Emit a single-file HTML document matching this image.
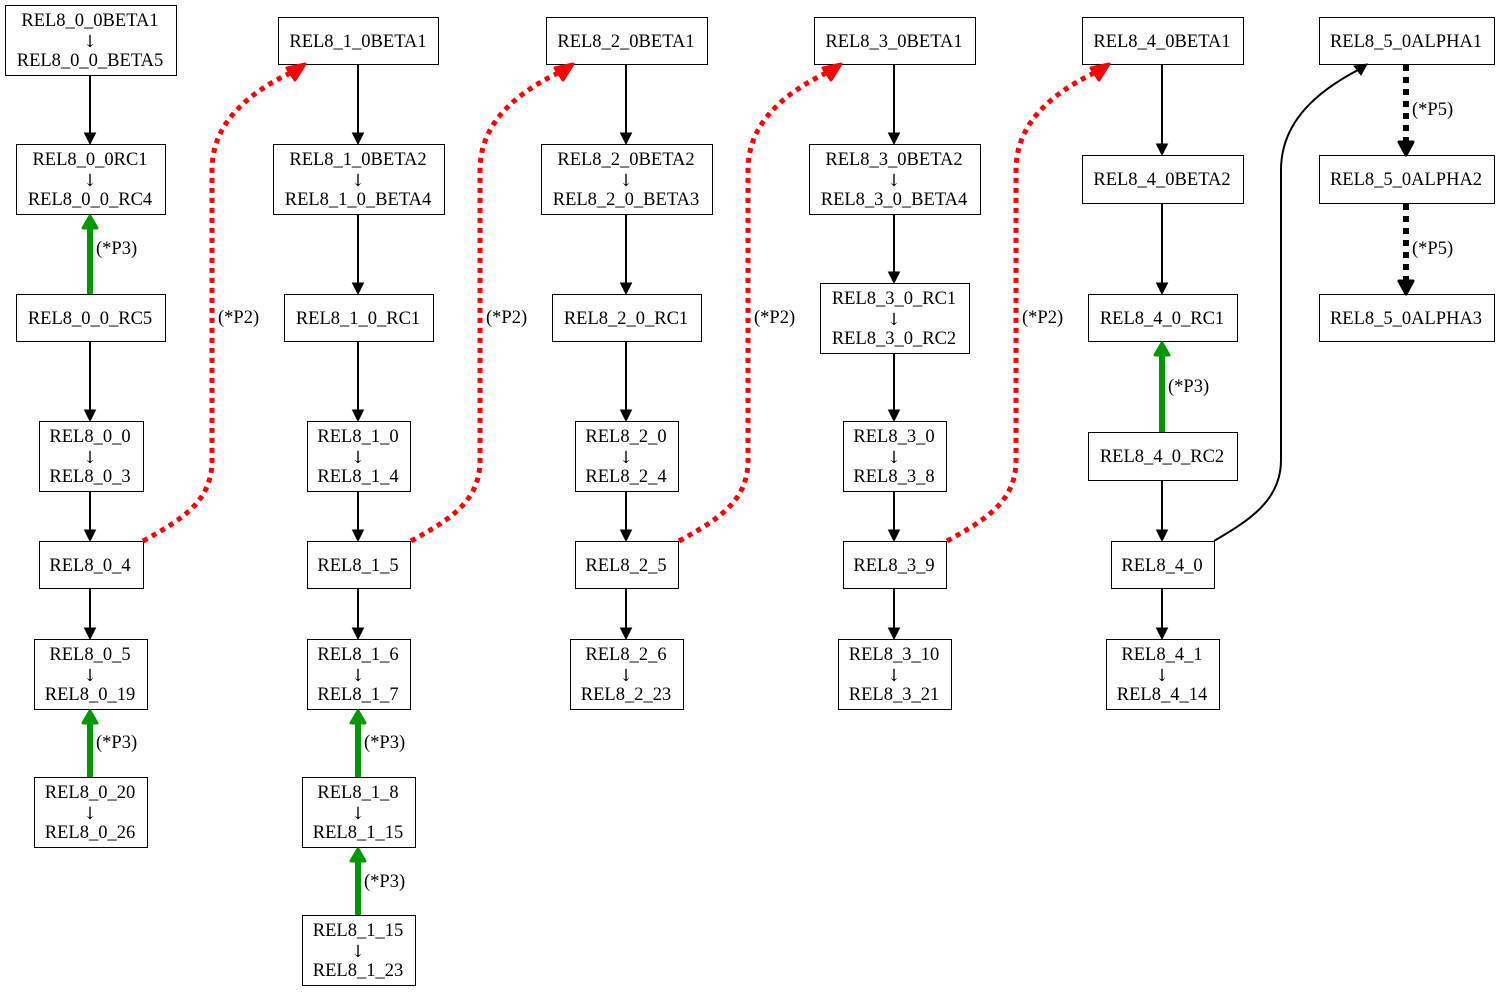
<!DOCTYPE html>
<html><head><meta charset="utf-8"><style>
html,body{margin:0;padding:0;background:#fff;}
svg{display:block;}
text{font-family:"Liberation Serif",serif;font-size:18.5px;fill:#000;}
text.a{font-size:17px;font-family:"DejaVu Serif","Liberation Serif",serif;}
</style></head><body>
<svg width="1499" height="992" viewBox="0 0 1499 992" xmlns="http://www.w3.org/2000/svg">
<g fill="none" stroke="#000" stroke-width="1">
<rect x="5.5" y="5.5" width="171" height="70"/>
<rect x="16.5" y="144.5" width="149" height="70"/>
<rect x="16.5" y="294.5" width="149" height="47"/>
<rect x="39.5" y="421.5" width="104" height="70"/>
<rect x="39.5" y="541.5" width="104" height="47"/>
<rect x="34.5" y="639.5" width="113" height="70"/>
<rect x="34.5" y="777.5" width="113" height="70"/>
<rect x="278.5" y="17.5" width="160" height="47"/>
<rect x="273.5" y="144.5" width="171" height="70"/>
<rect x="284.5" y="294.5" width="149" height="47"/>
<rect x="307.5" y="421.5" width="103" height="70"/>
<rect x="307.5" y="541.5" width="103" height="47"/>
<rect x="307.5" y="639.5" width="103" height="70"/>
<rect x="302.5" y="777.5" width="113" height="70"/>
<rect x="302.5" y="915.5" width="113" height="70"/>
<rect x="546.5" y="17.5" width="161" height="47"/>
<rect x="541.5" y="144.5" width="171" height="70"/>
<rect x="552.5" y="294.5" width="149" height="47"/>
<rect x="575.5" y="421.5" width="103" height="70"/>
<rect x="575.5" y="541.5" width="103" height="47"/>
<rect x="570.5" y="639.5" width="113" height="70"/>
<rect x="814.5" y="17.5" width="161" height="47"/>
<rect x="809.5" y="144.5" width="171" height="70"/>
<rect x="820.5" y="283.5" width="149" height="70"/>
<rect x="843.5" y="421.5" width="103" height="70"/>
<rect x="843.5" y="541.5" width="103" height="47"/>
<rect x="838.5" y="639.5" width="113" height="70"/>
<rect x="1082.5" y="17.5" width="161" height="47"/>
<rect x="1082.5" y="155.5" width="161" height="48"/>
<rect x="1088.5" y="294.5" width="149" height="47"/>
<rect x="1088.5" y="432.5" width="149" height="48"/>
<rect x="1111.5" y="541.5" width="103" height="47"/>
<rect x="1106.5" y="639.5" width="113" height="70"/>
<rect x="1319.5" y="17.5" width="175" height="47"/>
<rect x="1319.5" y="155.5" width="175" height="48"/>
<rect x="1319.5" y="294.5" width="175" height="47"/>
</g>

<g stroke="#000" stroke-width="2" fill="none">
<line x1="90" y1="76" x2="90" y2="134"/>
<line x1="90" y1="342" x2="90" y2="411"/>
<line x1="90" y1="492" x2="90" y2="531"/>
<line x1="90" y1="589" x2="90" y2="629"/>
<line x1="358" y1="65" x2="358" y2="134"/>
<line x1="358" y1="215" x2="358" y2="284"/>
<line x1="358" y1="342" x2="358" y2="411"/>
<line x1="358" y1="492" x2="358" y2="531"/>
<line x1="358" y1="589" x2="358" y2="629"/>
<line x1="626" y1="65" x2="626" y2="134"/>
<line x1="626" y1="215" x2="626" y2="284"/>
<line x1="626" y1="342" x2="626" y2="411"/>
<line x1="626" y1="492" x2="626" y2="531"/>
<line x1="626" y1="589" x2="626" y2="629"/>
<line x1="894" y1="65" x2="894" y2="134"/>
<line x1="894" y1="215" x2="894" y2="273"/>
<line x1="894" y1="354" x2="894" y2="411"/>
<line x1="894" y1="492" x2="894" y2="531"/>
<line x1="894" y1="589" x2="894" y2="629"/>
<line x1="1162" y1="65" x2="1162" y2="145"/>
<line x1="1162" y1="204" x2="1162" y2="284"/>
<line x1="1162" y1="481" x2="1162" y2="531"/>
<line x1="1162" y1="589" x2="1162" y2="629"/>
<path d="M1214,541 C1250,520 1281,500 1281,460 L1281,170 C1281,120 1320,90 1358,70"/>
</g>
<g fill="#000" stroke="#000" stroke-width="1">
<polygon points="84.5,133 95.5,133 90,144"/>
<polygon points="84.5,410 95.5,410 90,421"/>
<polygon points="84.5,530 95.5,530 90,541"/>
<polygon points="84.5,628 95.5,628 90,639"/>
<polygon points="352.5,133 363.5,133 358,144"/>
<polygon points="352.5,283 363.5,283 358,294"/>
<polygon points="352.5,410 363.5,410 358,421"/>
<polygon points="352.5,530 363.5,530 358,541"/>
<polygon points="352.5,628 363.5,628 358,639"/>
<polygon points="620.5,133 631.5,133 626,144"/>
<polygon points="620.5,283 631.5,283 626,294"/>
<polygon points="620.5,410 631.5,410 626,421"/>
<polygon points="620.5,530 631.5,530 626,541"/>
<polygon points="620.5,628 631.5,628 626,639"/>
<polygon points="888.5,133 899.5,133 894,144"/>
<polygon points="888.5,272 899.5,272 894,283"/>
<polygon points="888.5,410 899.5,410 894,421"/>
<polygon points="888.5,530 899.5,530 894,541"/>
<polygon points="888.5,628 899.5,628 894,639"/>
<polygon points="1156.5,144 1167.5,144 1162,155"/>
<polygon points="1156.5,283 1167.5,283 1162,294"/>
<polygon points="1156.5,530 1167.5,530 1162,541"/>
<polygon points="1156.5,628 1167.5,628 1162,639"/>
<polygon points="1354,66 1361,75 1367,64"/>
</g>

<g stroke="#000" stroke-width="6" stroke-dasharray="6,6" fill="none">
<line x1="1406" y1="65" x2="1406" y2="142"/>
<line x1="1406" y1="204" x2="1406" y2="281"/>
</g>
<g fill="#000" stroke="#000" stroke-width="3" stroke-linejoin="round">
<polygon points="1399,142 1413,142 1406,155"/>
<polygon points="1399,281 1413,281 1406,294"/>
</g>

<g stroke="#009900" stroke-width="6" fill="none">
<line x1="90" y1="294" x2="90" y2="228"/>
<line x1="90" y1="777" x2="90" y2="723"/>
<line x1="358" y1="777" x2="358" y2="723"/>
<line x1="358" y1="915" x2="358" y2="861"/>
<line x1="1162" y1="432" x2="1162" y2="355"/>
</g>
<g fill="#009900" stroke="#009900" stroke-width="3" stroke-linejoin="round">
<polygon points="83,228 97,228 90,216"/>
<polygon points="83,723 97,723 90,711"/>
<polygon points="351,723 365,723 358,711"/>
<polygon points="351,861 365,861 358,849"/>
<polygon points="1155,355 1169,355 1162,343"/>
</g>

<g stroke="#ff0000" stroke-width="5" stroke-dasharray="5,5" fill="none">
<path d="M143,541 C185,518 212,500 212,460 L212,170 C212,125 245,95 290,73"/>
<path d="M411,541 C453,518 480,500 480,460 L480,170 C480,125 513,95 558,73"/>
<path d="M679,541 C721,518 748,500 748,460 L748,170 C748,125 781,95 826,73"/>
<path d="M947,541 C989,518 1016,500 1016,460 L1016,170 C1016,125 1049,95 1094,73"/>
</g>
<g fill="#ff0000" stroke="#ff0000" stroke-width="3" stroke-linejoin="round">
<polygon points="287,68 295,80 305,64"/>
<polygon points="555,68 563,80 573,64"/>
<polygon points="823,68 831,80 841,64"/>
<polygon points="1091,68 1099,80 1109,64"/>
</g>

<g text-anchor="start">
<text x="96" y="254">(*P3)</text>
<text x="96" y="748">(*P3)</text>
<text x="364" y="748">(*P3)</text>
<text x="364" y="887">(*P3)</text>
<text x="1168" y="392">(*P3)</text>
<text x="218" y="323">(*P2)</text>
<text x="486" y="323">(*P2)</text>
<text x="754" y="323">(*P2)</text>
<text x="1022" y="323">(*P2)</text>
<text x="1412" y="115">(*P5)</text>
<text x="1412" y="254">(*P5)</text>
</g>

<g text-anchor="middle">
<text x="90" y="26">REL8_0_0BETA1</text><text class="a" x="90" y="47">↓</text><text x="90" y="66">REL8_0_0_BETA5</text>
<text x="90" y="165">REL8_0_0RC1</text><text class="a" x="90" y="186">↓</text><text x="90" y="205">REL8_0_0_RC4</text>
<text x="90" y="324">REL8_0_0_RC5</text>
<text x="90" y="442">REL8_0_0</text><text class="a" x="90" y="463">↓</text><text x="90" y="482">REL8_0_3</text>
<text x="90" y="571">REL8_0_4</text>
<text x="90" y="660">REL8_0_5</text><text class="a" x="90" y="681">↓</text><text x="90" y="700">REL8_0_19</text>
<text x="90" y="798">REL8_0_20</text><text class="a" x="90" y="819">↓</text><text x="90" y="838">REL8_0_26</text>
<text x="358" y="47">REL8_1_0BETA1</text>
<text x="358" y="165">REL8_1_0BETA2</text><text class="a" x="358" y="186">↓</text><text x="358" y="205">REL8_1_0_BETA4</text>
<text x="358" y="324">REL8_1_0_RC1</text>
<text x="358" y="442">REL8_1_0</text><text class="a" x="358" y="463">↓</text><text x="358" y="482">REL8_1_4</text>
<text x="358" y="571">REL8_1_5</text>
<text x="358" y="660">REL8_1_6</text><text class="a" x="358" y="681">↓</text><text x="358" y="700">REL8_1_7</text>
<text x="358" y="798">REL8_1_8</text><text class="a" x="358" y="819">↓</text><text x="358" y="838">REL8_1_15</text>
<text x="358" y="936">REL8_1_15</text><text class="a" x="358" y="957">↓</text><text x="358" y="976">REL8_1_23</text>
<text x="626" y="47">REL8_2_0BETA1</text>
<text x="626" y="165">REL8_2_0BETA2</text><text class="a" x="626" y="186">↓</text><text x="626" y="205">REL8_2_0_BETA3</text>
<text x="626" y="324">REL8_2_0_RC1</text>
<text x="626" y="442">REL8_2_0</text><text class="a" x="626" y="463">↓</text><text x="626" y="482">REL8_2_4</text>
<text x="626" y="571">REL8_2_5</text>
<text x="626" y="660">REL8_2_6</text><text class="a" x="626" y="681">↓</text><text x="626" y="700">REL8_2_23</text>
<text x="894" y="47">REL8_3_0BETA1</text>
<text x="894" y="165">REL8_3_0BETA2</text><text class="a" x="894" y="186">↓</text><text x="894" y="205">REL8_3_0_BETA4</text>
<text x="894" y="304">REL8_3_0_RC1</text><text class="a" x="894" y="325">↓</text><text x="894" y="344">REL8_3_0_RC2</text>
<text x="894" y="442">REL8_3_0</text><text class="a" x="894" y="463">↓</text><text x="894" y="482">REL8_3_8</text>
<text x="894" y="571">REL8_3_9</text>
<text x="894" y="660">REL8_3_10</text><text class="a" x="894" y="681">↓</text><text x="894" y="700">REL8_3_21</text>
<text x="1162" y="47">REL8_4_0BETA1</text>
<text x="1162" y="185">REL8_4_0BETA2</text>
<text x="1162" y="324">REL8_4_0_RC1</text>
<text x="1162" y="462">REL8_4_0_RC2</text>
<text x="1162" y="571">REL8_4_0</text>
<text x="1162" y="660">REL8_4_1</text><text class="a" x="1162" y="681">↓</text><text x="1162" y="700">REL8_4_14</text>
<text x="1406" y="47">REL8_5_0ALPHA1</text>
<text x="1406" y="185">REL8_5_0ALPHA2</text>
<text x="1406" y="324">REL8_5_0ALPHA3</text>
</g>
</svg>
</body></html>
